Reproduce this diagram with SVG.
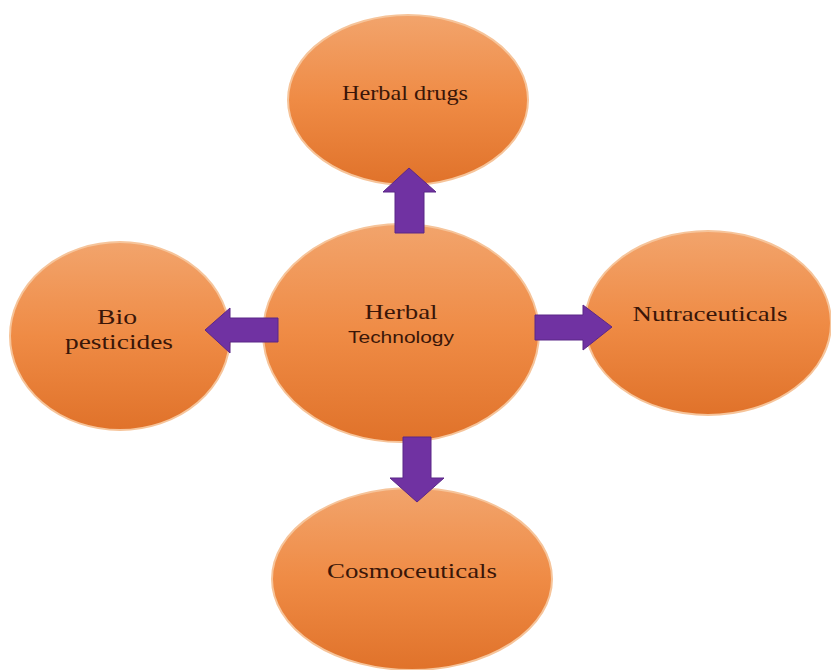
<svg xmlns="http://www.w3.org/2000/svg" width="831" height="670" viewBox="0 0 831 670">
<defs>
<linearGradient id="orange" x1="0" y1="0" x2="0" y2="1">
<stop offset="0" stop-color="#f2a46c"/>
<stop offset="0.5" stop-color="#ef8b45"/>
<stop offset="1" stop-color="#e0722a"/>
</linearGradient>
<style>
.node{fill:url(#orange);stroke:#f6c49a;stroke-width:2}
.arrow{fill:#7032a2;stroke:#5b2687;stroke-width:1}
.serif{font-family:"Liberation Serif","Times New Roman",serif;font-size:21px;fill:#3a1608;text-anchor:middle}
.sans{font-family:"Liberation Sans",Arial,sans-serif;font-size:16px;fill:#3a1608;text-anchor:middle}
</style>
</defs>
<rect width="831" height="670" fill="#ffffff"/>
<g id="herbal-drugs">
<ellipse class="node" cx="408" cy="100" rx="120" ry="85"/>
<text class="serif" x="405" y="100" textLength="126" lengthAdjust="spacingAndGlyphs">Herbal drugs</text>
</g>
<g id="bio-pesticides">
<ellipse class="node" cx="120" cy="336" rx="110" ry="94"/>
<text class="serif" x="117" y="324" textLength="40" lengthAdjust="spacingAndGlyphs">Bio</text>
<text class="serif" x="119" y="349" textLength="108" lengthAdjust="spacingAndGlyphs">pesticides</text>
</g>
<g id="nutraceuticals">
<ellipse class="node" cx="708" cy="323" rx="123" ry="92"/>
<text class="serif" x="710" y="321" textLength="155" lengthAdjust="spacingAndGlyphs">Nutraceuticals</text>
</g>
<g id="cosmoceuticals">
<ellipse class="node" cx="412" cy="579" rx="140" ry="91"/>
<text class="serif" x="412" y="578" textLength="170" lengthAdjust="spacingAndGlyphs">Cosmoceuticals</text>
</g>
<g id="herbal-technology">
<ellipse class="node" cx="401" cy="333" rx="138" ry="109"/>
<text class="serif" x="401" y="319" textLength="73" lengthAdjust="spacingAndGlyphs">Herbal</text>
<text class="sans" x="401" y="343" textLength="106" lengthAdjust="spacingAndGlyphs">Technology</text>
</g>
<g id="connectors">
<polygon class="arrow" points="395,233 395,192 383,192 409,168 436,192 424,192 424,233"/>
<polygon class="arrow" points="278,318 230,318 230,308 205,330 230,353 230,342 278,342"/>
<polygon class="arrow" points="535,315 583,315 583,305 612,327 583,350 583,340 535,340"/>
<polygon class="arrow" points="403,437 403,478 390,478 417,502 444,478 431,478 431,437"/>
</g>
</svg>
